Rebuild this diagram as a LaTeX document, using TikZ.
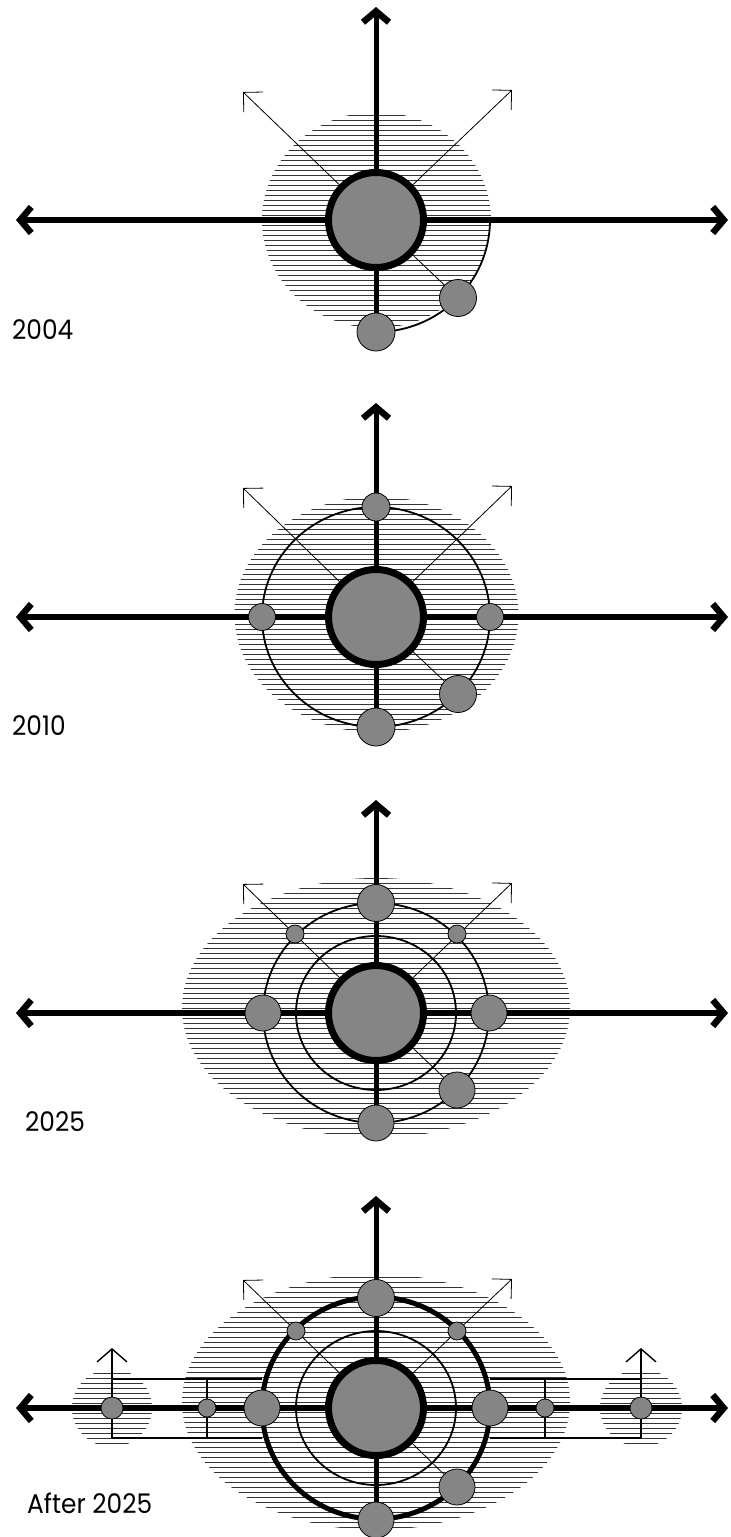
\documentclass[tikz,border=0pt]{standalone}
\usepackage{fontspec}
\setmainfont{Poppins}[FakeStretch=0.92]
\usetikzlibrary{arrows.meta}
\newcommand{\hatchell}[4]{%
  \begin{scope}
    \clip (#1,#2) ellipse [x radius=#3pt, y radius=#4pt];
    \foreach \yy in {-150,-145,...,150}
      \draw[hatchline] (#1-#3-2,#2+\yy) -- (#1+#3+2,#2+\yy);
  \end{scope}}
\begin{document}
\begin{tikzpicture}[x=1pt,y=-1pt,
  hatchline/.style={draw=black!80,line width=1pt},
  axis/.style={line width=5.5pt,{Straight Barb[length=11pt,width=26pt,line width=6.5pt]}-{Straight Barb[length=11pt,width=26pt,line width=6.5pt]}},
  upaxis/.style={line width=5pt,-{Straight Barb[length=11pt,width=26pt,line width=6.5pt]}},
  diag/.style={line width=0.8pt,-{Straight Barb[length=14pt,width=28pt]}},
  spoke/.style={line width=0.8pt},
  ring/.style={line width=1.8pt},
  thickring/.style={line width=5pt},
  bracket/.style={line width=1.4pt},
  smallup/.style={line width=1.4pt,-{Straight Barb[length=13pt,width=30pt]}},
  bigc/.style={circle,draw=black,fill=black!48,line width=7pt,minimum size=95pt,inner sep=0pt},
  dot/.style={circle,draw=black,fill=black!48,line width=0.8pt,inner sep=0pt,minimum size=#1},
  year/.style={anchor=base west,font=\fontsize{27}{30}\selectfont,inner sep=0pt}]
\useasboundingbox (0,0) rectangle (731,1537);
% ================= Panel 1 (2004) =================
\hatchell{376.5}{220}{114.5}{108}
\draw[ring] (490,220) arc [start angle=0,end angle=-90,x radius=114pt,y radius=112pt];
\coordinate (c1) at (376,220);
\coordinate (l1) at (16,220);
\coordinate (r1) at (728,220);
\coordinate (t1) at (376,7);
\coordinate (b1p) at (376,332);
\coordinate (ul1) at (243,92);
\coordinate (ur1) at (512,90);
\coordinate (lr1p) at (458,298);
\draw[axis] (l1) -- (r1);
\draw[upaxis] (b1p) -- (t1);
\draw[diag] (c1) -- (ul1);
\draw[diag] (c1) -- (ur1);
\draw[spoke] (c1) -- (lr1p);
\node[bigc] (m1) at (c1) {};
\node[dot=38pt] (b1) at (b1p) {};
\node[dot=37pt] (lr1) at (lr1p) {};
\node[year] (y1) at (12,339) {2004};
% ================= Panel 2 (2010) =================
\hatchell{376.5}{614.5}{142}{118}
\draw[ring] (376,617) ellipse [x radius=114pt,y radius=110pt];
\coordinate (c2) at (376,617);
\coordinate (l2) at (16,617);
\coordinate (r2) at (728,617);
\coordinate (t2) at (376,403);
\coordinate (b2p) at (376,727);
\coordinate (ul2) at (243,488);
\coordinate (ur2) at (512,486);
\coordinate (lr2p) at (458,694);
\draw[axis] (l2) -- (r2);
\draw[upaxis] (b2p) -- (t2);
\draw[diag] (c2) -- (ul2);
\draw[diag] (c2) -- (ur2);
\draw[spoke] (c2) -- (lr2p);
\node[bigc] (m2) at (c2) {};
\node[dot=28pt] (tp2) at (376,507) {};
\node[dot=27pt] (lf2) at (262,617) {};
\node[dot=27pt] (rt2) at (490,617) {};
\node[dot=38pt] (b2) at (b2p) {};
\node[dot=37pt] (lr2) at (lr2p) {};
\node[year] (y2) at (12,735) {2010};
% ================= Panel 3 (2025) =================
\hatchell{376}{1008}{194}{130}
\draw[ring] (376,1013) ellipse [x radius=80pt,y radius=77pt];
\draw[ring] (376,1013) ellipse [x radius=113pt,y radius=110pt];
\coordinate (c3) at (376,1013);
\coordinate (l3) at (16,1013);
\coordinate (r3) at (728,1013);
\coordinate (t3) at (376,800);
\coordinate (b3p) at (376,1123);
\coordinate (ul3) at (243,884);
\coordinate (ur3) at (512,883);
\coordinate (lr3p) at (457,1090);
\draw[axis] (l3) -- (r3);
\draw[upaxis] (b3p) -- (t3);
\draw[diag] (c3) -- (ul3);
\draw[diag] (c3) -- (ur3);
\draw[spoke] (c3) -- (lr3p);
\node[bigc] (m3) at (c3) {};
\node[dot=37pt] (tp3) at (376,903) {};
\node[dot=36pt] (lf3) at (263,1013) {};
\node[dot=36pt] (rt3) at (489,1013) {};
\node[dot=18pt] (ula3) at (295,934) {};
\node[dot=18pt] (ura3) at (457,934) {};
\node[dot=36pt] (b3) at (b3p) {};
\node[dot=36pt] (lr3) at (lr3p) {};
\node[year] (y3) at (25,1131) {2025};
% ================= Panel 4 (After 2025) =================
\hatchell{376}{1402}{194}{128}
\hatchell{112}{1408}{40}{39}
\hatchell{641}{1408}{41}{39}
\draw[ring] (376,1408) ellipse [x radius=80pt,y radius=77pt];
\draw[thickring] (376,1408) ellipse [x radius=114pt,y radius=111pt];
\coordinate (c4) at (376,1408);
\coordinate (l4) at (16,1408);
\coordinate (r4) at (728,1408);
\coordinate (t4) at (376,1196);
\coordinate (b4p) at (376,1520);
\coordinate (ul4) at (243,1280);
\coordinate (ur4) at (512,1279);
\coordinate (lr4p) at (457,1487);
\coordinate (lf4p) at (262,1408);
\coordinate (rt4p) at (490,1408);
\coordinate (fl4p) at (112,1408);
\coordinate (nl4p) at (207,1408);
\coordinate (nr4p) at (545,1408);
\coordinate (fr4p) at (641,1408);
% brackets
\coordinate (ltl) at (112,1379);
\coordinate (ltr) at (262,1379);
\coordinate (lbl) at (112,1438);
\coordinate (lbr) at (262,1438);
\coordinate (lmt) at (207,1379);
\coordinate (lmb) at (207,1438);
\coordinate (lup) at (112,1348);
\coordinate (rtl) at (490,1379);
\coordinate (rtr) at (641,1379);
\coordinate (rbl) at (490,1438);
\coordinate (rbr) at (641,1438);
\coordinate (rmt) at (545,1379);
\coordinate (rmb) at (545,1438);
\coordinate (rup) at (641,1348);
\draw[bracket] (ltr) -- (ltl);
\draw[bracket] (lbr) -- (lbl);
\draw[bracket] (lmt) -- (lmb);
\draw[smallup] (lbl) -- (lup);
\draw[bracket] (rtl) -- (rtr);
\draw[bracket] (rbl) -- (rbr);
\draw[bracket] (rmt) -- (rmb);
\draw[smallup] (rbr) -- (rup);
\draw[axis] (l4) -- (r4);
\draw[upaxis] (b4p) -- (t4);
\draw[diag] (c4) -- (ul4);
\draw[diag] (c4) -- (ur4);
\draw[spoke] (c4) -- (lr4p);
\node[bigc] (m4) at (c4) {};
\node[dot=37pt] (tp4) at (376,1298) {};
\node[dot=36pt] (lf4) at (lf4p) {};
\node[dot=36pt] (rt4) at (rt4p) {};
\node[dot=18pt] (ula4) at (296,1331) {};
\node[dot=18pt] (ura4) at (457,1331) {};
\node[dot=36pt] (b4) at (b4p) {};
\node[dot=36pt] (lr4) at (lr4p) {};
\node[dot=22pt] (fl4) at (fl4p) {};
\node[dot=18pt] (nl4) at (nl4p) {};
\node[dot=18pt] (nr4) at (nr4p) {};
\node[dot=22pt] (fr4) at (fr4p) {};
\node[year] (y4) at (27,1513) {After 2025};
\end{tikzpicture}
\end{document}
